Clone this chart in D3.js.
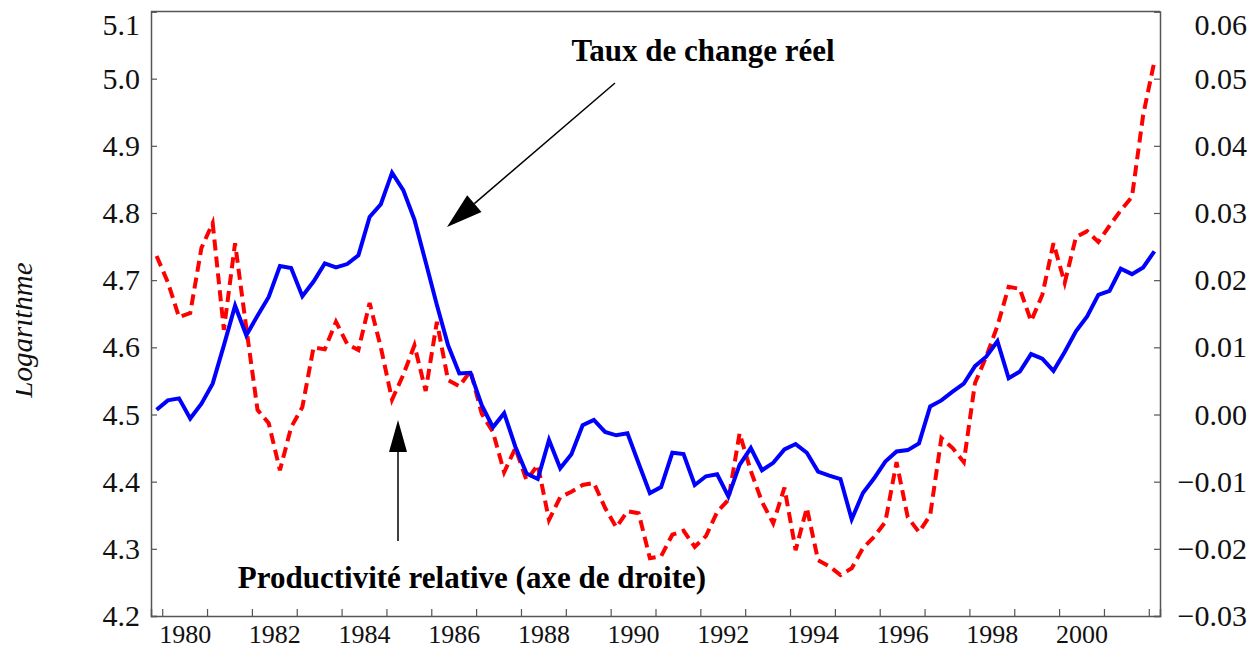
<!DOCTYPE html>
<html>
<head>
<meta charset="utf-8">
<script src="https://cdn.jsdelivr.net/npm/d3@7"></script>
<style>
  body { margin: 0; background: #fff; }
  text { font-family: "Liberation Serif", "Times New Roman", serif; }
</style>
</head>
<body>
<svg id="chart" width="1251" height="654"></svg>
<script>
(function(d3) {
  'use strict';

  // quarterly series, 1979Q4 -> 2002Q1
  var firstQuarter = 1979.75;

  // taux de change reel (log), left axis
  var tauxChange = [
    4.507, 4.521, 4.524, 4.494, 4.516, 4.546, 4.603, 4.662, 4.618, 4.647,
    4.675, 4.721, 4.718, 4.676, 4.698, 4.725, 4.719, 4.724, 4.737, 4.794,
    4.813, 4.860, 4.834, 4.790, 4.727, 4.663, 4.603, 4.561, 4.562, 4.514,
    4.481, 4.502, 4.452, 4.412, 4.404, 4.462, 4.420, 4.441, 4.484, 4.492,
    4.474, 4.469, 4.472, 4.427, 4.383, 4.392, 4.443, 4.441, 4.395, 4.408,
    4.411, 4.378, 4.425, 4.450, 4.417, 4.428, 4.448, 4.456, 4.443, 4.415,
    4.409, 4.404, 4.344, 4.383, 4.405, 4.430, 4.445, 4.447, 4.457, 4.512,
    4.521, 4.534, 4.546, 4.572, 4.586, 4.609, 4.554, 4.564, 4.590, 4.583,
    4.565, 4.593, 4.624, 4.646, 4.678, 4.684, 4.717, 4.709, 4.719, 4.743
  ];

  // productivite relative, right axis
  var productivite = [
    0.0236, 0.0197, 0.0145, 0.0151, 0.0248, 0.0285, 0.0126, 0.0255, 0.0129, 0.0007,
    -0.0013, -0.0083, -0.0019, 0.0011, 0.0100, 0.0097, 0.0138, 0.0105, 0.0096, 0.0166,
    0.0100, 0.0022, 0.0059, 0.0103, 0.0035, 0.0138, 0.0051, 0.0042, 0.0065, 0.0001,
    -0.0026, -0.0086, -0.0050, -0.0098, -0.0075, -0.0157, -0.0123, -0.0115, -0.0105, -0.0102,
    -0.0139, -0.0168, -0.0144, -0.0147, -0.0214, -0.0211, -0.0179, -0.0173, -0.0197, -0.0181,
    -0.0145, -0.0127, -0.0028, -0.0084, -0.0130, -0.0162, -0.0109, -0.0202, -0.0139, -0.0217,
    -0.0226, -0.0239, -0.0229, -0.0199, -0.0182, -0.0160, -0.0071, -0.0153, -0.0175, -0.0150,
    -0.0035, -0.0050, -0.0071, 0.0047, 0.0086, 0.0132, 0.0190, 0.0187, 0.0139, 0.0178,
    0.0255, 0.0196, 0.0264, 0.0273, 0.0257, 0.0281, 0.0304, 0.0324, 0.0446, 0.0526
  ];

  var leftTicks = [4.2, 4.3, 4.4, 4.5, 4.6, 4.7, 4.8, 4.9, 5.0, 5.1];
  var rightTicks = [-0.03, -0.02, -0.01, 0.00, 0.01, 0.02, 0.03, 0.04, 0.05, 0.06];
  var yearTicks = d3.range(1980, 2003);
  var yearLabels = [1980, 1982, 1984, 1986, 1988, 1990, 1992, 1994, 1996, 1998, 2000];

  var margin = { left: 151, right: 1160, top: 11.5, bottom: 616 };
  var axisColor = '#555';

  var svg = d3.select('#chart');

  var x = d3.scaleLinear().domain([1979.75, 2002.25]).range([margin.left, margin.right]);
  var yL = d3.scaleLinear().domain([4.2, 5.1]).range([margin.bottom, margin.top]);
  var yR = d3.scaleLinear().domain([-0.03, 0.06]).range([margin.bottom, margin.top]);

  // quarter midpoint for each value
  var dateOf = function(i) { return firstQuarter + 0.25 * i + 0.125; };

  // frame (top edge)
  svg.append('line')
    .attr('x1', margin.left).attr('x2', margin.right)
    .attr('y1', margin.top).attr('y2', margin.top)
    .attr('stroke', axisColor).attr('stroke-width', 1.5);

  // left axis
  var gL = svg.append('g')
    .attr('transform', 'translate(' + margin.left + ',0)')
    .call(d3.axisLeft(yL).tickValues(leftTicks).tickSize(-6).tickPadding(11)
      .tickFormat(d3.format('.1f')));

  // right axis
  var gR = svg.append('g')
    .attr('transform', 'translate(' + margin.right + ',0)')
    .call(d3.axisRight(yR).tickValues(rightTicks).tickSize(-6).tickPadding(87)
      .tickFormat(d3.format('.2f')));
  gR.selectAll('.tick text').attr('text-anchor', 'end');

  // bottom axis: ticks at year starts, labels mid-year
  var gB = svg.append('g')
    .attr('transform', 'translate(0,' + margin.bottom + ')')
    .call(d3.axisBottom(x).tickValues(yearTicks).tickSize(-7).tickFormat(''));

  var gB2 = svg.append('g')
    .attr('transform', 'translate(0,' + margin.bottom + ')')
    .call(d3.axisBottom(x).tickValues(yearLabels.map(function(d) { return d + 0.5; }))
      .tickSize(0).tickPadding(9).tickFormat(function(d) { return Math.floor(d); }));
  gB2.select('.domain').remove();

  [gL, gR, gB].forEach(function(g) {
    g.select('.domain').attr('stroke', axisColor).attr('stroke-width', 1.5);
    g.selectAll('.tick line').attr('stroke', axisColor).attr('stroke-width', 1.2);
  });

  gL.selectAll('.tick text').style('font-size', '30px').attr('fill', '#111');
  gR.selectAll('.tick text').style('font-size', '30px').attr('fill', '#111');
  gB2.selectAll('.tick text').style('font-size', '26px').attr('fill', '#111');

  // top labels are pushed down inside the frame
  gL.selectAll('.tick text').filter(function(d) { return d === 5.1; }).attr('dy', '0.32em').attr('y', 13);
  gR.selectAll('.tick text').filter(function(d) { return d === 0.06; }).attr('dy', '0.32em').attr('y', 13);

  // y label, its top edge is cut off as in the original
  svg.append('clipPath').attr('id', 'ylabClip')
    .append('rect').attr('x', 16).attr('y', 0).attr('width', 60).attr('height', 654);
  svg.append('g')
    .attr('clip-path', 'url(#ylabClip)')
    .append('text')
    .attr('transform', 'translate(32,330) rotate(-90)')
    .attr('text-anchor', 'middle')
    .style('font-size', '29px')
    .style('font-style', 'italic')
    .attr('fill', '#111')
    .text('Logarithme');

  // lines
  var lineL = d3.line()
    .x(function(d, i) { return x(dateOf(i)); })
    .y(function(d) { return yL(d); });
  var lineR = d3.line()
    .x(function(d, i) { return x(dateOf(i)); })
    .y(function(d) { return yR(d); });

  svg.append('path')
    .datum(productivite)
    .attr('d', lineR)
    .attr('fill', 'none')
    .attr('stroke', '#ff0000')
    .attr('stroke-width', 4)
    .attr('stroke-dasharray', '11,6');

  svg.append('path')
    .datum(tauxChange)
    .attr('d', lineL)
    .attr('fill', 'none')
    .attr('stroke', '#0000ff')
    .attr('stroke-width', 4)
    .attr('stroke-linejoin', 'miter');

  // annotations
  function arrow(x1, y1, x2, y2, headLen, headW) {
    var ang = Math.atan2(y2 - y1, x2 - x1);
    var bx = x2 - headLen * Math.cos(ang), by = y2 - headLen * Math.sin(ang);
    var px = -Math.sin(ang) * headW / 2, py = Math.cos(ang) * headW / 2;
    svg.append('line')
      .attr('x1', x1).attr('y1', y1).attr('x2', bx).attr('y2', by)
      .attr('stroke', '#000').attr('stroke-width', 1.5);
    svg.append('polygon')
      .attr('points', [[x2, y2], [bx + px, by + py], [bx - px, by - py]].join(' '))
      .attr('fill', '#000');
  }

  svg.append('text')
    .attr('x', 703).attr('y', 61)
    .attr('text-anchor', 'middle')
    .style('font-size', '31px').style('font-weight', 'bold')
    .text('Taux de change réel');
  arrow(615, 83, 447, 227, 36, 22);

  svg.append('text')
    .attr('x', 472).attr('y', 588)
    .attr('text-anchor', 'middle')
    .style('font-size', '31px').style('font-weight', 'bold')
    .text('Productivité relative (axe de droite)');
  arrow(398, 541, 398, 420, 32, 18);

})(window.d3);
</script>
</body>
</html>
